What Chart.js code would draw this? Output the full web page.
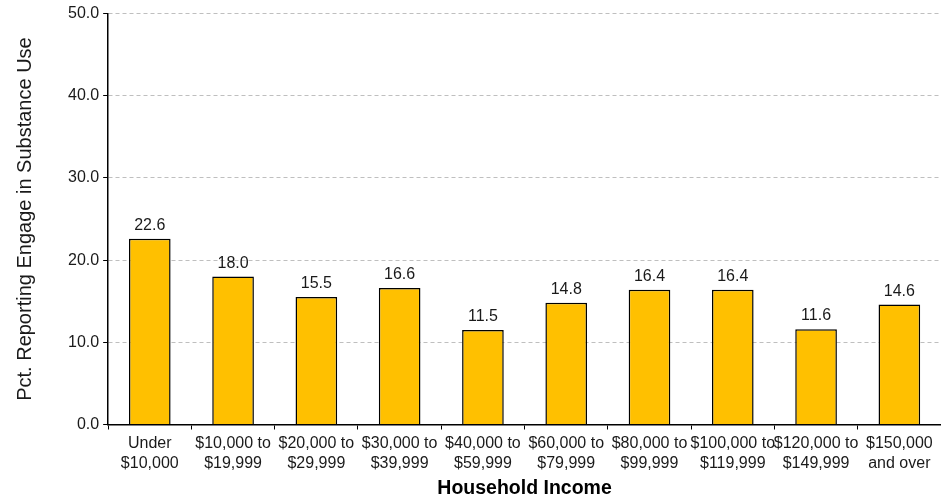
<!DOCTYPE html>
<html>
<head>
<meta charset="utf-8">
<script src="https://cdn.jsdelivr.net/npm/chart.js@4"></script>
<style>
  html, body { margin: 0; padding: 0; background: #fff; }
  #wrap { width: 941px; height: 498px; }
</style>
</head>
<body>
<div id="wrap"><canvas id="chart"></canvas></div>
<script>
// income brackets (two-line tick labels)
const incomeLabels = [
    ['Under', '$10,000'],
    ['$10,000 to', '$19,999'],
    ['$20,000 to', '$29,999'],
    ['$30,000 to', '$39,999'],
    ['$40,000 to', '$59,999'],
    ['$60,000 to', '$79,999'],
    ['$80,000 to', '$99,999'],
    ['$100,000 to', '$119,999'],
    ['$120,000 to', '$149,999'],
    ['$150,000', 'and over']
];
const substanceUsePct = [22.6, 18.0, 15.5, 16.6, 11.5, 14.8, 16.4, 16.4, 11.6, 14.6];
const yMin = 0;
const yMax = 50;
const yStep = 10;

const FONT = '"Liberation Sans", Arial, sans-serif';

// draws the value above each bar
const valueLabels = {
    id: 'valueLabels',
    afterDatasetsDraw(chart) {
        const ctx = chart.ctx;
        const meta = chart.getDatasetMeta(0);
        ctx.save();
        ctx.font = '16px ' + FONT;
        ctx.fillStyle = '#1a1a1a';
        ctx.textAlign = 'center';
        ctx.textBaseline = 'alphabetic';
        meta.data.forEach((bar, i) => {
            ctx.fillText(substanceUsePct[i].toFixed(1), bar.x, bar.y - 9);
        });
        ctx.restore();
    }
};

new Chart('chart', {
    type: 'bar',
    data: {
        labels: incomeLabels,
        datasets: [{
            data: substanceUsePct,
            backgroundColor: '#FFC000',
            borderColor: '#000000',
            borderWidth: 1.5,
            categoryPercentage: 1.0,
            barPercentage: 0.5
        }]
    },
    options: {
        responsive: true,
        maintainAspectRatio: false,
        animation: false,
        layout: { padding: { top: 8, right: 0, left: 0, bottom: 0 } },
        plugins: {
            legend: { display: false },
            tooltip: { enabled: false }
        },
        scales: {
            x: {
                grid: {
                    display: true,
                    drawOnChartArea: false,
                    tickColor: '#000',
                    tickLength: 5,
                    offset: true
                },
                border: { color: '#000', width: 1.5 },
                ticks: {
                    color: '#1a1a1a',
                    font: { family: FONT, size: 16, lineHeight: 1.25 },
                    maxRotation: 0,
                    autoSkip: false,
                    padding: 4
                },
                title: {
                    display: true,
                    text: 'Household Income',
                    color: '#000',
                    font: { family: FONT, size: 19.5, weight: 'bold', lineHeight: 1.0 },
                    padding: { top: 1, bottom: 0 }
                }
            },
            y: {
                min: yMin,
                max: yMax,
                grid: {
                    color: '#bfbfbf',
                    tickColor: '#000',
                    tickLength: 5
                },
                border: { color: '#000', width: 1.5, dash: [4, 3] },
                ticks: {
                    stepSize: yStep,
                    color: '#1a1a1a',
                    font: { family: FONT, size: 16 },
                    padding: 4,
                    callback: v => v.toFixed(1)
                },
                title: {
                    display: true,
                    text: 'Pct. Reporting Engage in Substance Use',
                    color: '#1a1a1a',
                    font: { family: FONT, size: 20 },
                    padding: { top: 13, bottom: 27 }
                }
            }
        }
    },
    plugins: [valueLabels]
});
</script>
</body>
</html>
